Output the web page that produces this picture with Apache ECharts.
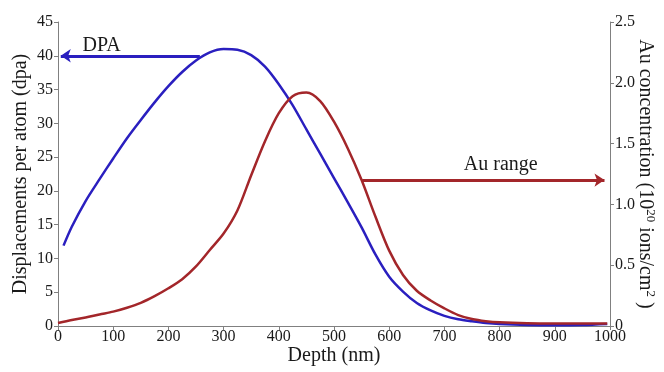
<!DOCTYPE html>
<html>
<head>
<meta charset="utf-8">
<script src="https://cdn.jsdelivr.net/npm/echarts@6/dist/echarts.min.js"></script>
<style>html,body{margin:0;padding:0;background:#fff;}#c{width:664px;height:372px;}</style>
</head>
<body>
<div id="c"></div>
<script>
// Depth (nm) and displacements per atom (dpa)
const dpaDepth = [10, 25, 50, 75, 100, 125, 150, 175, 200, 225, 250, 275, 300, 325, 350, 375, 400, 425, 450, 475, 500, 525, 550, 575, 600, 625, 650, 675, 700, 725, 750, 775, 800, 850, 900, 950, 995];
const dpaValues = [11.9, 14.7, 18.5, 21.7, 24.8, 27.8, 30.5, 33.1, 35.5, 37.6, 39.3, 40.5, 41.0, 40.9, 40.1, 38.4, 35.8, 32.7, 29.1, 25.5, 21.9, 18.3, 14.6, 10.6, 7.3, 5.1, 3.4, 2.3, 1.5, 1.0, 0.7, 0.45, 0.3, 0.15, 0.1, 0.15, 0.3];
// Depth (nm) and Au concentration (10^20 ions/cm^2)
const auDepth = [0, 25, 50, 75, 100, 125, 150, 175, 200, 225, 250, 275, 300, 325, 350, 375, 400, 425, 450, 475, 500, 525, 550, 575, 600, 625, 650, 675, 700, 725, 750, 775, 800, 850, 900, 950, 995];
const auValues = [0.025, 0.05, 0.07, 0.095, 0.118, 0.15, 0.19, 0.245, 0.31, 0.385, 0.49, 0.625, 0.76, 0.95, 1.24, 1.52, 1.75, 1.89, 1.92, 1.85, 1.68, 1.46, 1.20, 0.90, 0.62, 0.42, 0.29, 0.21, 0.145, 0.09, 0.058, 0.04, 0.03, 0.022, 0.02, 0.02, 0.02];
// Axis ticks
const xTicks = {min: 0, max: 1000, interval: 100};
const yLeftTicks = {min: 0, max: 45, interval: 5};
const yRightTicks = {min: 0, max: 2.5, interval: 0.5};
// Annotations (data coordinates)
const dpaArrow = [[257, 40], [5, 40]];
const auArrow = [[551, 1.2], [990, 1.2]];
const dpaLabel = [79, 41.5, 'DPA'];
const auLabel = [802, 1.33, 'Au range'];

const BLUE = '#2a1fbf';
const RED = '#a3262a';
const AXIS = '#808080';
const FONT = '"Liberation Serif", "Times New Roman", serif';
const TXT = '#1a1a1a';

const chart = echarts.init(document.getElementById('c'), null, {renderer: 'canvas'});
const axisCommon = {
  axisLine: {show: true, lineStyle: {color: AXIS, width: 1}},
  axisTick: {show: true, inside: false, length: 4, lineStyle: {color: AXIS}},
  splitLine: {show: false},
  axisLabel: {color: TXT, fontFamily: FONT, fontSize: 16, margin: 5},
  nameTextStyle: {color: TXT, fontFamily: FONT, fontSize: 20},
  nameMoveOverlap: false
};
const option = {
  animation: false,
  backgroundColor: '#fff',
  textStyle: {fontFamily: FONT},
  grid: {left: 58, right: 54, top: 22, bottom: 46, containLabel: false, outerBoundsMode: 'none'},
  xAxis: Object.assign({}, axisCommon, {
    type: 'value', min: xTicks.min, max: xTicks.max, interval: xTicks.interval,
    name: 'Depth (nm)', nameLocation: 'middle', nameGap: 20,
    axisLabel: Object.assign({}, axisCommon.axisLabel, {margin: 3, formatter: v => String(v)})
  }),
  yAxis: [
    Object.assign({}, axisCommon, {
      type: 'value', min: yLeftTicks.min, max: yLeftTicks.max, interval: yLeftTicks.interval,
      name: 'Displacements per atom (dpa)', nameLocation: 'middle', nameGap: 27, nameRotate: 90,
      position: 'left'
    }),
    Object.assign({}, axisCommon, {
      type: 'value', min: yRightTicks.min, max: yRightTicks.max, interval: yRightTicks.interval,
      position: 'right',
      name: 'Au concentration (10{sup|20} ions/cm{sup|2} )', nameLocation: 'middle', nameGap: 24, nameRotate: -90,
      nameTextStyle: {color: TXT, fontFamily: FONT, fontSize: 20,
        rich: {sup: {fontSize: 13, verticalAlign: 'top', padding: [0, 0, 10, 0], color: TXT, fontFamily: FONT}}},
      axisLabel: Object.assign({}, axisCommon.axisLabel, {
        formatter: v => v === 0 ? '0' : v.toFixed(1)
      })
    })
  ],
  series: [
    {
      type: 'line', name: 'DPA', yAxisIndex: 0,
      data: dpaDepth.map((d, i) => [d, dpaValues[i]]),
      smooth: 0.3, showSymbol: false, symbol: 'none',
      lineStyle: {color: BLUE, width: 2.5},
      silent: true,
      markLine: {
        silent: true, symbol: ['none', 'arrow'], symbolSize: 10,
        label: {show: false},
        lineStyle: {color: BLUE, width: 3, type: 'solid'},
        data: [[{coord: dpaArrow[0]}, {coord: dpaArrow[1]}]]
      }
    },
    {
      type: 'line', name: 'Au', yAxisIndex: 1,
      data: auDepth.map((d, i) => [d, auValues[i]]),
      smooth: 0.3, showSymbol: false, symbol: 'none',
      lineStyle: {color: RED, width: 2.5},
      silent: true,
      markLine: {
        silent: true, symbol: ['none', 'arrow'], symbolSize: 10,
        label: {show: false},
        lineStyle: {color: RED, width: 3, type: 'solid'},
        data: [[{coord: auArrow[0]}, {coord: auArrow[1]}]]
      }
    }
  ]
};
chart.setOption(option);
const p1 = chart.convertToPixel({xAxisIndex: 0, yAxisIndex: 0}, [dpaLabel[0], dpaLabel[1]]);
const p2 = chart.convertToPixel({xAxisIndex: 0, yAxisIndex: 1}, [auLabel[0], auLabel[1]]);
chart.setOption({
  graphic: [
    {type: 'text', x: p1[0], y: p1[1], silent: true,
     style: {text: dpaLabel[2], fill: TXT, font: '20px ' + FONT, textAlign: 'center', textVerticalAlign: 'middle'}},
    {type: 'text', x: p2[0], y: p2[1], silent: true,
     style: {text: auLabel[2], fill: TXT, font: '20px ' + FONT, textAlign: 'center', textVerticalAlign: 'middle'}}
  ]
});
</script>
</body>
</html>
